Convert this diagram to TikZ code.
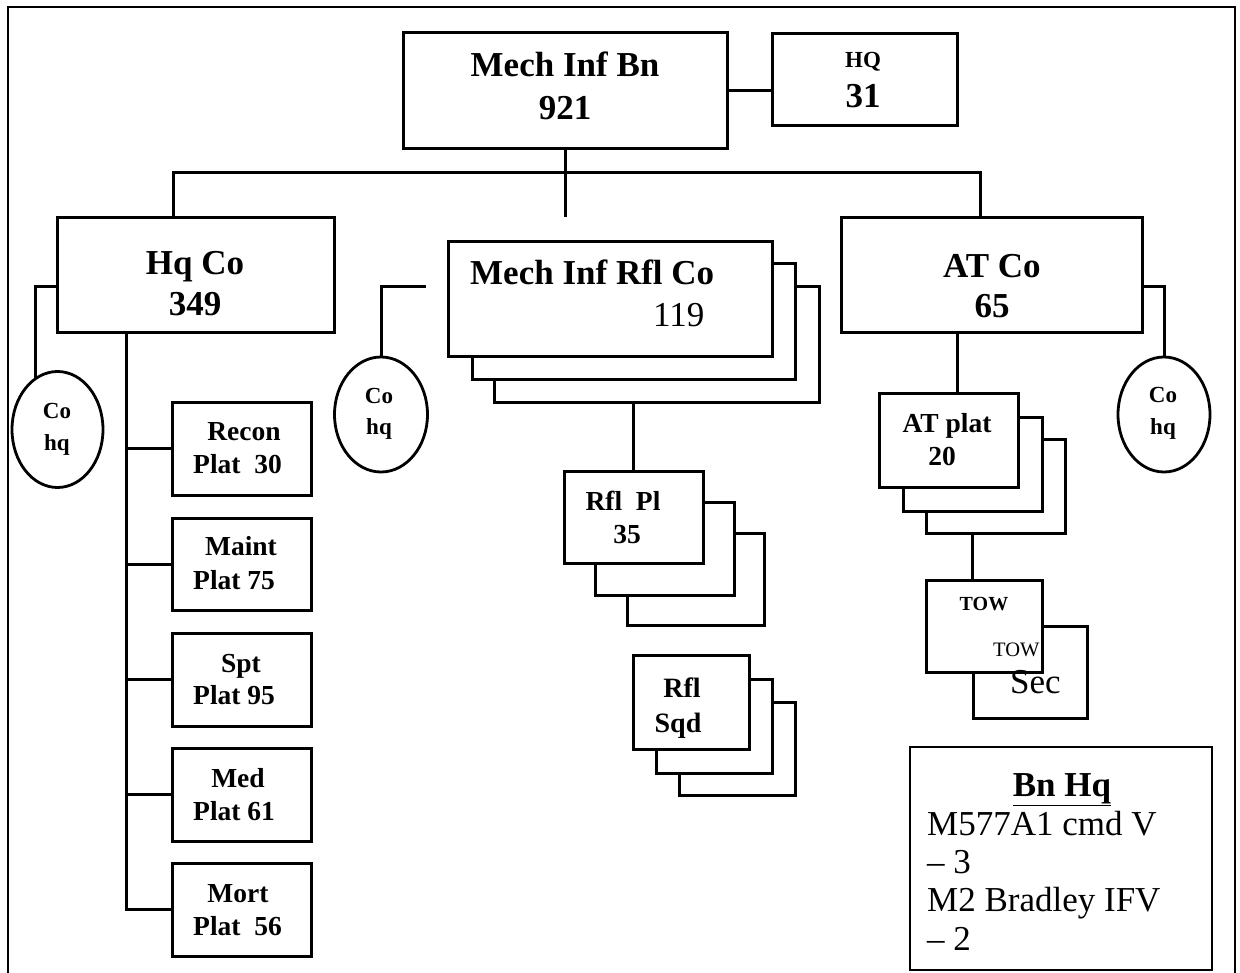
\documentclass[tikz,border=0pt]{standalone}
\usepackage{fontspec}
\setmainfont{Liberation Serif}
\usetikzlibrary{shapes.geometric}
\newcommand\fs[1]{\fontsize{#1}{#1}\selectfont}
\newcommand\mybox[5]{\node[box,minimum width={#4-#2},minimum height={#5-#3}] (#1) at ({(#2+#4)/2},{(#3+#5)/2}) {};}
\begin{document}
\begin{tikzpicture}[x=1pt,y=-1pt,
  box/.style={draw,rectangle,line width=3pt,fill=white,inner sep=0pt,outer sep=0pt},
  thinbox/.style={draw,rectangle,line width=1.5pt,inner sep=0pt,outer sep=0pt},
  oval/.style={draw,ellipse,line width=2.8pt,fill=white,inner sep=0pt,outer sep=0pt},
  conn/.style={line width=3pt},
  tb/.style={font=\fs{#1}\bfseries,inner sep=0pt,anchor=base},
  tr/.style={font=\fs{#1},inner sep=0pt,anchor=base}]
\useasboundingbox (0,0) rectangle (1240,973);
% outer frame
\draw[line width=1.6pt] (8,973) -- (8,7) -- (1235,7) -- (1235,973);

% top level
\mybox{bn}{403}{33}{727}{149}
\mybox{hq}{772}{34}{957}{126}
\node[tb=35] (tbn1) at (565,77) {Mech Inf Bn};
\node[tb=35] (tbn2) at (565,120) {921};
\node[tb=23] (thq1) at (863,68) {HQ};
\node[tb=35] (thq2) at (863,108) {31};
\draw[conn] (bn.east) -- (bn.east -| hq.west);

% companies
\mybox{hqco}{57}{218}{334}{333}
\mybox{atco}{841}{218}{1142}{333}
\mybox{rflco3}{494}{287}{819}{403}
\mybox{rflco2}{472}{264}{795}{380}
\mybox{rflco1}{448}{242}{772}{357}
\node[tb=35] (thqco1) at (195,275) {Hq Co};
\node[tb=35] (thqco2) at (195,316) {349};
\node[tb=35] (tatco1) at (992,278) {AT Co};
\node[tb=35] (tatco2) at (992,318) {65};
\node[tb=35,anchor=base west] (trfl1) at (470,285) {Mech Inf Rfl Co};
\node[tr=35,anchor=base west] (trfl2) at (653,327) {119};

% bus
\coordinate (busL) at (173,173);
\coordinate (busR) at (980,173);
\coordinate (midend) at (565,217);
\draw[conn] (hqco.north -| busL) |- (busR) -- (busR |- atco.north);
\draw[conn] (bn.south) -- (midend);

% Co hq ellipses
\node[oval,minimum width=91,minimum height=116] (cohqL) at (57.5,429.5) {};
\node[oval,minimum width=93,minimum height=115] (cohqM) at (381,414.5) {};
\node[oval,minimum width=92,minimum height=115] (cohqR) at (1164,414.5) {};
\node[tb=23] (tcl1) at (57,419) {Co};
\node[tb=23] (tcl2) at (57,450) {hq};
\node[tb=23] (tcm1) at (379,404) {Co};
\node[tb=23] (tcm2) at (379,435) {hq};
\node[tb=23] (tcr1) at (1163,403) {Co};
\node[tb=23] (tcr2) at (1163,435) {hq};
\coordinate (mfree) at (426,287);
\draw[conn] ([yshift=-11.5pt]hqco.west) -| (cohqL.114);
\draw[conn] (mfree) -| (cohqM.north);
\draw[conn] ([yshift=-11.5pt]atco.east) -| (cohqR.north);

% Hq Co platoons
\mybox{recon}{172}{403}{311}{495}
\mybox{maint}{172}{518}{311}{610}
\mybox{spt}{172}{633}{311}{726}
\mybox{med}{172}{748}{311}{841}
\mybox{mort}{172}{863}{311}{956}
\coordinate (hqv) at (126,333);
\draw[conn] (hqv) |- (mort.west);
\foreach \b in {recon,maint,spt,med} \draw[conn] (\b.west) -- (\b.west -| hqv);
\node[tb=27.5] (trec1) at (244,441) {Recon};
\node[tb=27.5,anchor=base west] (trec2) at (193,474) {Plat~~30};
\node[tb=27.5] (tmai1) at (241,555) {Maint};
\node[tb=27.5,anchor=base west] (tmai2) at (193,589) {Plat 75};
\node[tb=27.5] (tspt1) at (241,672) {Spt};
\node[tb=27.5,anchor=base west] (tspt2) at (193,704) {Plat 95};
\node[tb=27.5] (tmed1) at (238,787) {Med};
\node[tb=27.5,anchor=base west] (tmed2) at (193,820) {Plat 61};
\node[tb=27.5] (tmor1) at (238,902) {Mort};
\node[tb=27.5,anchor=base west] (tmor2) at (193,935) {Plat~~56};

% Rfl Pl
\mybox{rflpl3}{627}{533}{764}{625}
\mybox{rflpl2}{595}{502}{734}{595}
\mybox{rflpl1}{564}{471}{703}{563}
\draw[conn] (rflpl1.north |- rflco3.south) -- (rflpl1.north);
\node[tb=27.5] (tpl1) at (623,510) {Rfl~~Pl};
\node[tb=27.5] (tpl2) at (627,543) {35};

% Rfl Sqd
\mybox{sqd3}{679}{702}{795}{795}
\mybox{sqd2}{656}{679}{772}{773}
\mybox{sqd1}{633}{655}{749}{749}
\node[tb=28] (tsq1) at (682,697) {Rfl};
\node[tb=28] (tsq2) at (678,732) {Sqd};

% AT plat
\mybox{atplat3}{926}{440}{1065}{533}
\mybox{atplat2}{903}{418}{1042}{511}
\mybox{atplat1}{879}{394}{1018}{487}
\draw[conn] ([xshift=8.5pt]atplat1.north |- atco.south) -- ([xshift=8.5pt]atplat1.north);
\node[tb=27.5] (tat1) at (947,432) {AT plat};
\node[tb=27.5] (tat2) at (942,465) {20};

% TOW
\mybox{tow2}{973}{626}{1087}{718}
\mybox{tow1}{926}{580}{1042}{672}
\draw[conn] ([xshift=-12pt]tow1.north |- atplat3.south) -- ([xshift=-12pt]tow1.north);
\node[tb=20] (ttow1) at (984,610) {TOW};
\node[tr=20.5,anchor=base west] (ttow2) at (993,656) {TOW};
\node[tr=35,anchor=base west] (tsec) at (1010,693) {Sec};

% Bn Hq legend
\node[thinbox,minimum width=302,minimum height=223] (bnhq) at (1061,858.5) {};
\node[tb=35] (tbh0) at (1062,796) {\underline{Bn Hq}};
\node[tr=35,anchor=base west] (tbh1) at (927,835) {M577A1 cmd V};
\node[tr=35,anchor=base west] (tbh2) at (927,873) {– 3};
\node[tr=35,anchor=base west] (tbh3) at (927,911) {M2 Bradley IFV};
\node[tr=35,anchor=base west] (tbh4) at (927,950) {– 2};
\end{tikzpicture}
\end{document}
